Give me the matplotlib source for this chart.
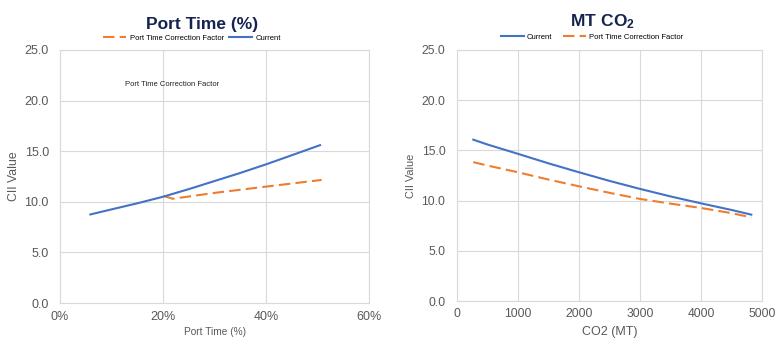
import matplotlib
matplotlib.use("Agg")
import matplotlib.pyplot as plt
from matplotlib.ticker import FuncFormatter, MultipleLocator

plt.rcParams['font.family'] = ['Liberation Sans', 'DejaVu Sans']
plt.rcParams['mathtext.fontset'] = 'custom'
plt.rcParams['mathtext.rm'] = 'Liberation Sans'
plt.rcParams['mathtext.bf'] = 'Liberation Sans:bold'

# Port time chart
port_x_current = [0.059, 0.10, 0.15, 0.20, 0.25, 0.30, 0.35, 0.40, 0.45, 0.505]
port_y_current = [8.75, 9.25, 9.85, 10.5, 11.25, 12.05, 12.85, 13.7, 14.6, 15.6]
port_x_corr = [0.201, 0.219, 0.30, 0.40, 0.508]
port_y_corr = [10.58, 10.3, 10.88, 11.5, 12.16]

# CO2 chart
co2_x = [275, 500, 1000, 1500, 2000, 2500, 3000, 3500, 4000, 4500, 4825]
co2_current = [16.07, 15.6, 14.67, 13.72, 12.83, 11.97, 11.17, 10.42, 9.73, 9.07, 8.6]
co2_corr = [13.83, 13.5, 12.83, 12.1, 11.43, 10.78, 10.17, 9.7, 9.27, 8.75, 8.33]

BLUE = '#4472C4'
ORANGE = '#ED7D31'
GRID = '#D9D9D9'
TICK = '#595959'
TITLE = '#14234F'

W, H = 776, 338
fig = plt.figure(figsize=(W / 100, H / 100), dpi=100)


def px_axes(x0, x1, y0, y1):
    return fig.add_axes([x0 / W, 1 - y1 / H, (x1 - x0) / W, (y1 - y0) / H])


def style(ax, fs):
    ax.set_ylim(0, 25)
    ax.yaxis.set_major_locator(MultipleLocator(5))
    ax.yaxis.set_major_formatter(FuncFormatter(lambda v, p: f"{v:.1f}"))
    ax.grid(True, color=GRID, linewidth=0.8)
    ax.set_axisbelow(True)
    for s in ax.spines.values():
        s.set_color(GRID)
        s.set_linewidth(0.8)
    ax.tick_params(length=0, labelsize=fs, colors=TICK)


# left chart
ax1 = px_axes(60, 369, 50, 303)
style(ax1, 9)
ax1.tick_params(axis='x', pad=6)
ax1.tick_params(axis='y', pad=8)
ax1.set_xlim(0, 0.6)
ax1.xaxis.set_major_locator(MultipleLocator(0.2))
ax1.xaxis.set_major_formatter(FuncFormatter(lambda v, p: f"{v * 100:.0f}%"))
l_corr, = ax1.plot(port_x_corr, port_y_corr, color=ORANGE, lw=1.5, dashes=(5.5, 2.5))
l_cur, = ax1.plot(port_x_current, port_y_current, color=BLUE, lw=1.5)
ax1.set_xlabel("Port Time (%)", fontsize=7.3, color=TICK)
ax1.xaxis.set_label_coords(0.5, -0.095)
ax1.set_ylabel("CII Value", fontsize=8.8, color=TICK)
ax1.yaxis.set_label_coords(-0.13, 0.5)
ax1.text(0.21, 0.865, "Port Time Correction Factor", transform=ax1.transAxes,
         fontsize=5.5, color='#222222', va='center')
fig.text(202 / W, 1 - 24 / H, "Port Time (%)", fontsize=12.5, fontweight='bold',
         color=TITLE, ha='center', va='center')
fig.legend([l_corr, l_cur], ["Port Time Correction Factor", "Current"],
           loc='center', bbox_to_anchor=(192 / W, 1 - 38 / H), ncol=2,
           frameon=False, fontsize=5.5, handlelength=3, handletextpad=0.5,
           columnspacing=0.6, borderpad=0)

# right chart
ax2 = px_axes(456.5, 762, 50, 301)
style(ax2, 8.7)
ax2.tick_params(axis='x', pad=5)
ax2.tick_params(axis='y', pad=8)
ax2.set_xlim(0, 5000)
ax2.xaxis.set_major_locator(MultipleLocator(1000))
r_cur, = ax2.plot(co2_x, co2_current, color=BLUE, lw=1.5)
r_corr, = ax2.plot(co2_x, co2_corr, color=ORANGE, lw=1.5, dashes=(5.5, 2.5))
ax2.set_xlabel("CO2 (MT)", fontsize=9, color=TICK)
ax2.xaxis.set_label_coords(0.5, -0.1)
ax2.set_ylabel("CII Value", fontsize=7.9, color=TICK)
ax2.yaxis.set_label_coords(-0.133, 0.5)
fig.text(603 / W, 1 - 22 / H, r"$\mathbf{MT\ CO_2}$", fontsize=12.5,
         color=TITLE, ha='center', va='center')
fig.legend([r_cur, r_corr], ["Current", "Port Time Correction Factor"],
           loc='center', bbox_to_anchor=(592 / W, 1 - 37 / H), ncol=2,
           frameon=False, fontsize=5.5, handlelength=3, handletextpad=0.3,
           columnspacing=1.5, borderpad=0)

fig.savefig("out.png", dpi=100)
